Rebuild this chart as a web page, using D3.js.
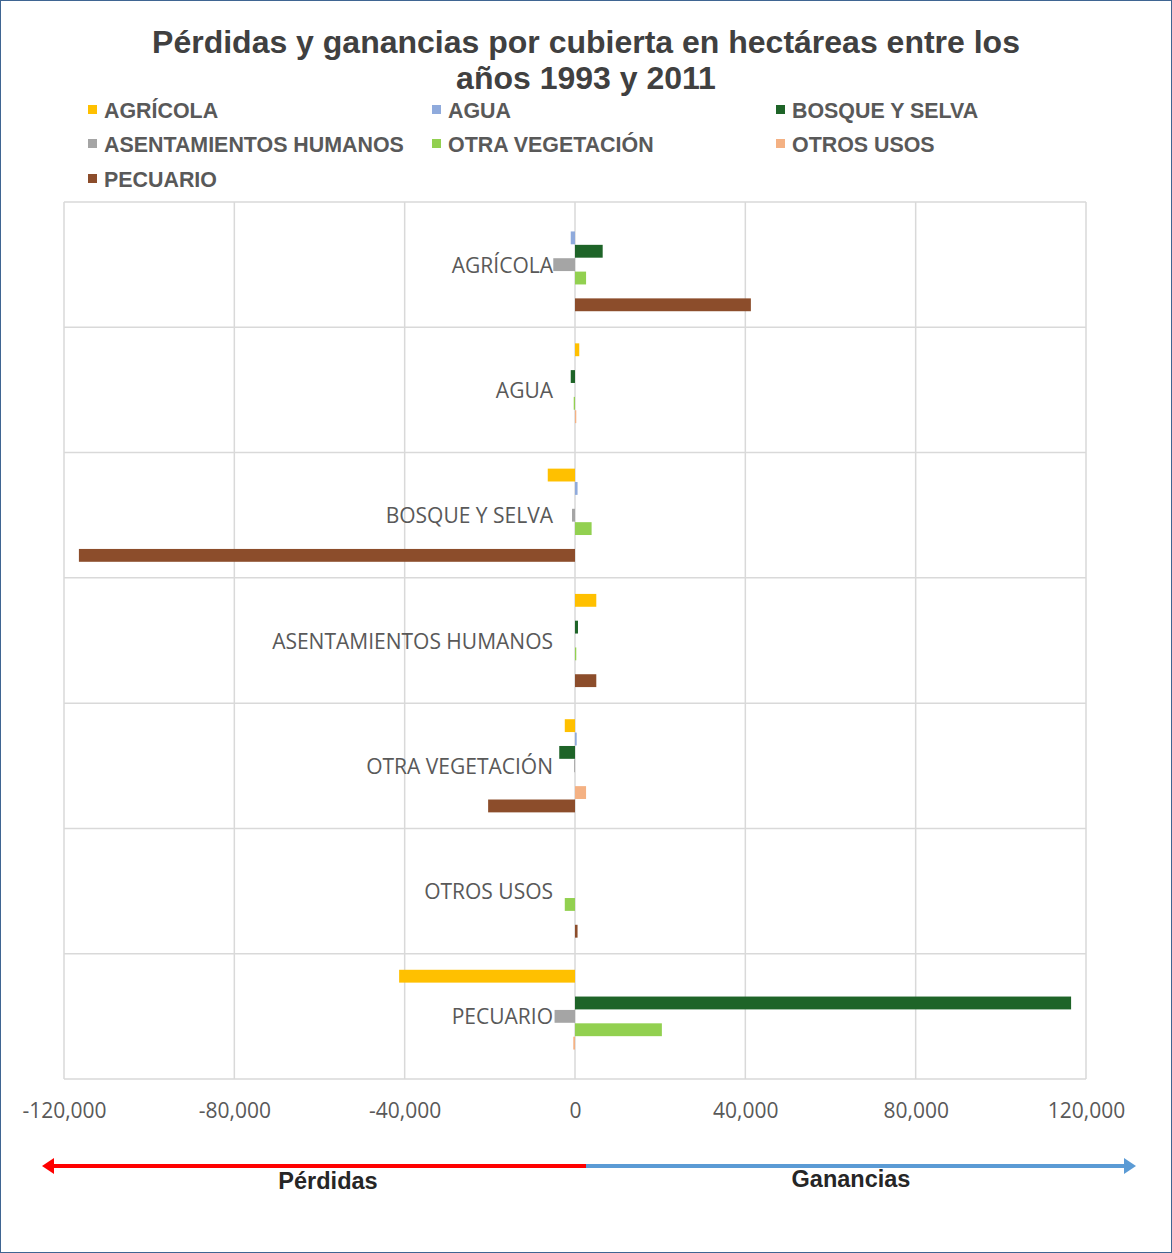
<!DOCTYPE html>
<html>
<head>
<meta charset="utf-8">
<script src="https://cdn.jsdelivr.net/npm/d3@7"></script>
<style>
  html, body { margin: 0; padding: 0; background: #fff; }
  svg { display: block; }
</style>
</head>
<body>
<svg id="chart" width="1172" height="1253"></svg>
<script>
// Land-cover classes (rows) and the cover each hectare was exchanged with (series)
const categories = ["AGRÍCOLA", "AGUA", "BOSQUE Y SELVA", "ASENTAMIENTOS HUMANOS", "OTRA VEGETACIÓN", "OTROS USOS", "PECUARIO"];
const seriesNames = ["AGRÍCOLA", "AGUA", "BOSQUE Y SELVA", "ASENTAMIENTOS HUMANOS", "OTRA VEGETACIÓN", "OTROS USOS", "PECUARIO"];
const seriesColors = ["#ffc000", "#8faadc", "#1e6428", "#a5a5a5", "#92d050", "#f4b183", "#8c4d2b"];

// Hectares gained (+) or lost (-) by each row cover, per exchanged cover
const agricola      = [0, 1000, -6400, 5000, -2400, 0, -41300];
const agua          = [-1000, 0, 600, 0, 400, 0, 0];
const bosqueSelva   = [6500, -1000, 0, 700, -3700, 0, 116500];
const asentamientos = [-5100, 0, -700, 0, -200, 0, -4800];
const otraVeg       = [2600, -300, 3900, 300, 0, -2400, 20400];
const otrosUsos     = [0, 300, 0, 0, 2600, 0, -400];
const pecuario      = [41300, 0, -116500, 5000, -20400, 600, 0];
const seriesValues = [agricola, agua, bosqueSelva, asentamientos, otraVeg, otrosUsos, pecuario];

const tickValues = [-120000, -80000, -40000, 0, 40000, 80000, 120000];
const titleLines = ["Pérdidas y ganancias por cubierta en hectáreas entre los", "años 1993 y 2011"];

const svg = d3.select("#chart");
const W = 1172, H = 1253;
const plot = { left: 64, right: 1086, top: 202, bottom: 1079 };

// outer frame
svg.append("rect")
  .attr("x", 0.5).attr("y", 0.5).attr("width", W - 1).attr("height", H - 1)
  .attr("fill", "#fff").attr("stroke", "#3f6592").attr("stroke-width", 1);

// title
svg.append("g").selectAll("text").data(titleLines).join("text")
  .attr("x", 586).attr("y", (d, i) => 53 + i * 36)
  .attr("text-anchor", "middle")
  .attr("font-family", "'Liberation Sans', Arial, sans-serif")
  .attr("font-weight", "bold").attr("font-size", 32)
  .attr("fill", "#404040")
  .text(d => d);

// legend, three columns
const legend = svg.append("g");
const legCols = [88, 432, 776], legRows = [110, 144, 179];
seriesNames.forEach((name, i) => {
  const gx = legCols[i % 3], gy = legRows[Math.floor(i / 3)];
  legend.append("rect").attr("x", gx).attr("y", gy - 5).attr("width", 9).attr("height", 9)
    .attr("fill", seriesColors[i]);
  legend.append("text").attr("x", gx + 16).attr("y", gy + 8)
    .attr("font-family", "'Liberation Sans', Arial, sans-serif")
    .attr("font-weight", "bold").attr("font-size", 21.4).attr("fill", "#595959")
    .text(name);
});

// scales
const x = d3.scaleLinear().domain([-120000, 120000]).range([plot.left, plot.right]);
const y = d3.scaleBand().domain(categories).range([plot.top, plot.bottom]).padding(0);
const ySub = d3.scaleBand().domain(seriesNames).range([0, y.bandwidth()])
  .paddingInner(0.04).paddingOuter(1.2);

// gridlines
const grid = svg.append("g").attr("stroke", "#d9d9d9").attr("stroke-width", 1.5);
grid.selectAll("line.v").data(tickValues).join("line")
  .attr("class", "v")
  .attr("x1", d => x(d)).attr("x2", d => x(d))
  .attr("y1", plot.top).attr("y2", plot.bottom);
const bounds = categories.map(c => y(c)).concat([plot.bottom]);
grid.selectAll("line.h").data(bounds).join("line")
  .attr("class", "h")
  .attr("x1", plot.left).attr("x2", plot.right)
  .attr("y1", d => d).attr("y2", d => d);

// bars
const rows = svg.append("g").selectAll("g").data(categories).join("g")
  .attr("transform", c => `translate(0,${y(c)})`);
rows.selectAll("rect")
  .data((c, ci) => seriesNames.map((s, si) => ({ s, si, v: seriesValues[si][ci] })))
  .join("rect")
  .filter(d => d.v !== 0)
  .attr("x", d => Math.min(x(0), x(d.v)))
  .attr("width", d => Math.abs(x(d.v) - x(0)))
  .attr("y", d => ySub(d.s))
  .attr("height", ySub.bandwidth())
  .attr("fill", d => seriesColors[d.si]);

// category labels beside the zero axis
svg.append("g").selectAll("text").data(categories).join("text")
  .attr("x", x(0) - 22)
  .attr("y", c => y(c) + y.bandwidth() / 2 + 8)
  .attr("text-anchor", "end")
  .attr("font-family", "'Open Sans', sans-serif")
  .attr("font-size", 21).attr("fill", "#595959")
  .text(c => c);

// value axis labels (plain hyphen for negatives)
const fmt = d3.format(",");
const xAxis = d3.axisBottom(x).tickValues(tickValues).tickSize(0).tickPadding(0)
  .tickFormat(d => fmt(d).replace("−", "-"));
const axisG = svg.append("g").attr("transform", `translate(0,${plot.bottom + 39})`).call(xAxis);
axisG.select(".domain").remove();
axisG.selectAll("text")
  .attr("font-family", "'Open Sans', sans-serif")
  .attr("font-size", 21).attr("fill", "#595959").attr("dy", 0);

// losses / gains arrows
const arrowY = 1166;
const arrows = svg.append("g");
arrows.append("line").attr("x1", 586).attr("x2", 52).attr("y1", arrowY).attr("y2", arrowY)
  .attr("stroke", "#ff0000").attr("stroke-width", 4);
arrows.append("path")
  .attr("d", `M42,${arrowY} L54,${arrowY - 8} L54,${arrowY + 8} Z`).attr("fill", "#ff0000");
arrows.append("line").attr("x1", 586).attr("x2", 1126).attr("y1", arrowY).attr("y2", arrowY)
  .attr("stroke", "#5b9bd5").attr("stroke-width", 4);
arrows.append("path")
  .attr("d", `M1136,${arrowY} L1124,${arrowY - 8} L1124,${arrowY + 8} Z`).attr("fill", "#5b9bd5");
arrows.append("text").attr("x", 328).attr("y", 1189).attr("text-anchor", "middle")
  .attr("font-family", "'Liberation Sans', Arial, sans-serif")
  .attr("font-weight", "bold").attr("font-size", 23.5).attr("fill", "#262626")
  .text("Pérdidas");
arrows.append("text").attr("x", 851).attr("y", 1187).attr("text-anchor", "middle")
  .attr("font-family", "'Liberation Sans', Arial, sans-serif")
  .attr("font-weight", "bold").attr("font-size", 23.5).attr("fill", "#262626")
  .text("Ganancias");
</script>
</body>
</html>
